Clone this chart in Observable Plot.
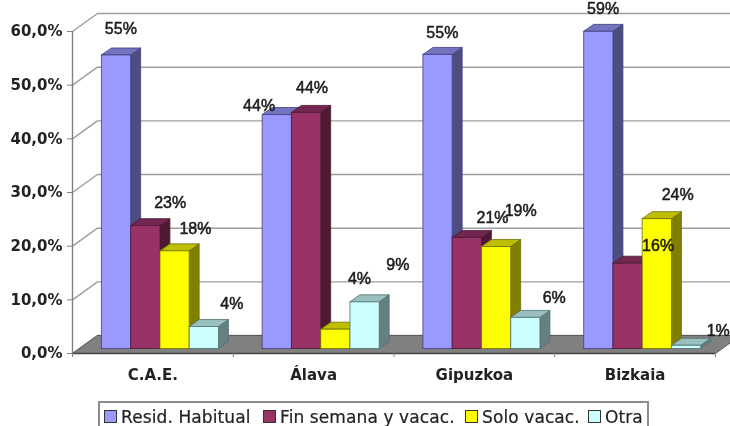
<!DOCTYPE html>
<html><head><meta charset="utf-8">
<script src="https://cdn.jsdelivr.net/npm/d3@7"></script>
<script src="https://cdn.jsdelivr.net/npm/@observablehq/plot@0.6"></script>
<style>
html,body{margin:0;padding:0;background:#fff;overflow:hidden;width:730px;height:426px}
#chart svg{display:block;background:transparent}
#chart,#legend{filter:blur(0.4px)}
#legend{position:absolute;left:98px;top:401px;width:547px;height:27px;border:2px solid #8c8c8c;box-sizing:content-box;display:flex;align-items:center;font:17px "DejaVu Sans";letter-spacing:.1px;color:#222;white-space:nowrap;-webkit-text-stroke:.2px #222}
#legend span.s{display:inline-block;width:11px;height:11px;border:1px solid #333;margin:0 4px 0 0}
#legend span.i{display:inline-flex;align-items:center;position:absolute}
</style></head><body>
<div id="chart"></div><div id="legend"></div>
<script>
const categories = ["C.A.E.", "Álava", "Gipuzkoa", "Bizkaia"];
const seriesNames = ["Resid. Habitual", "Fin semana y vacac.", "Solo vacac.", "Otra"];
const residHabitual = [54.7, 43.6, 54.8, 59.1];
const finSemana = [22.9, 44.0, 20.7, 15.9];
const soloVacac = [18.2, 3.6, 19.0, 24.2];
const otra = [4.1, 8.7, 5.8, 0.6];
const seriesValues = [residHabitual, finSemana, soloVacac, otra];
const yTicks = [0, 10, 20, 30, 40, 50, 60];

// styling and layout, separate from the values
const frontColors = ["#9999ff", "#993366", "#ffff00", "#ccffff"];
const sideColors = ["#4d4d80", "#4d1933", "#808000", "#668080"];
const topColors = ["#7373bf", "#732650", "#bfbf00", "#99bfbf"];
const edgeColors = ["#3f3f80", "#4d1933", "#6f6f00", "#4f7070"];
const barWidth = 0.182, barStart = 0.18;
const barDx = 0.062, barDy = 1.3, baseY = 0.93;
const wallDx = 0.155, wallDy = 3.35;
// label nudges from each bar's top centre, in x-scale and y-scale units
const labelNudge = [
  [[0.03,4.9],[0.155,4.3],[0.13,4.0],[0.174,4.2]],
  [[-0.11,1.7],[0.037,4.5],[0.15,9.3],[0.207,6.9]],
  [[0.03,4.1],[0.16,3.7],[0.153,6.7],[0.18,3.7]],
  [[0.03,4.25],[0.19,3.3],[0.13,4.4],[0.2,2.7]]
];

const poly = (pts, fill, stroke, strokeWidth = 0.8) =>
  Plot.line([...pts, pts[0]], {x: "x", y: "y", fill, stroke, strokeWidth, strokeLinejoin: "round"});
const P = (x, y) => ({x, y});

const marks = [];
// back wall grid lines and their diagonals on the side wall
for (const t of yTicks) {
  marks.push(Plot.line([P(0, t), P(wallDx, t + wallDy), P(4.2, t + wallDy)],
    {x: "x", y: "y", stroke: "#9e9e9e", strokeWidth: 1.4}));
}
// floor
marks.push(poly([P(0, 0), P(4, 0), P(4 + wallDx, wallDy), P(wallDx, wallDy)], "#808080", "#5a5a5a", 1));
marks.push(Plot.ruleY([0], {x1: 0, x2: 4, stroke: "#444", strokeWidth: 1.6}));

// bars
categories.forEach((c, ci) => {
  seriesValues.forEach((vals, si) => {
    const x0 = ci + barStart + si * barWidth, x1 = x0 + barWidth;
    const top = vals[ci] + baseY;
    marks.push(poly([P(x1, baseY), P(x1 + barDx, baseY + barDy), P(x1 + barDx, top + barDy), P(x1, top)], sideColors[si], edgeColors[si]));
    marks.push(poly([P(x0, top), P(x0 + barDx, top + barDy), P(x1 + barDx, top + barDy), P(x1, top)], topColors[si], edgeColors[si]));
    marks.push(poly([P(x0, baseY), P(x1, baseY), P(x1, top), P(x0, top)], frontColors[si], edgeColors[si]));
  });
});

// value labels
const labels = [];
categories.forEach((c, ci) => seriesValues.forEach((vals, si) => {
  const [nx, ny] = labelNudge[ci][si];
  labels.push({x: ci + barStart + (si + 0.5) * barWidth + nx, y: vals[ci] + baseY + ny, t: d3.format(".0f")(vals[ci]) + "%"});
}));
marks.push(Plot.text(labels, {x: "x", y: "y", text: "t", fontFamily: "Liberation Sans", fontSize: 16, fill: "#1c1c1c", stroke: "#1c1c1c", strokeWidth: 0.5}));

// axes
marks.push(Plot.axisY(yTicks, {anchor: "left", label: null, tickSize: 5, tickPadding: 5, stroke: "#808080",
  fill: "#222", fontFamily: "DejaVu Sans", fontSize: 15, fontWeight: 700, tickFormat: d => d.toFixed(1).replace(".", ",") + "%"}));
marks.push(Plot.ruleX([0], {y1: 0, y2: 60, stroke: "#808080", strokeWidth: 1.4}));
marks.push(Plot.axisX([0, 1, 2, 3, 4], {anchor: "bottom", label: null, tickSize: 4, stroke: "#808080", tickFormat: () => ""}));
marks.push(Plot.text(categories, {x: (d, i) => i + 0.5, y: () => 0, dy: 22, text: d => d, fontFamily: "DejaVu Sans", fontSize: 15, fontWeight: 700, fill: "#222"}));

const chart = Plot.plot({
  width: 730, height: 400,
  marginLeft: 72, marginRight: 0, marginTop: 31, marginBottom: 47,
  x: {domain: [0, (730 - 72) / 160.75], axis: null},
  y: {domain: [0, 60], axis: null},
  marks
});
document.getElementById("chart").append(chart);

// legend
const legend = document.getElementById("legend");
const swatchLeft = [4, 163, 365, 488];
seriesNames.forEach((name, i) => {
  const item = document.createElement("span");
  item.className = "i";
  item.style.left = swatchLeft[i] + "px";
  const sw = document.createElement("span");
  sw.className = "s";
  sw.style.background = frontColors[i];
  item.append(sw, name);
  legend.append(item);
});
</script>
</body></html>
